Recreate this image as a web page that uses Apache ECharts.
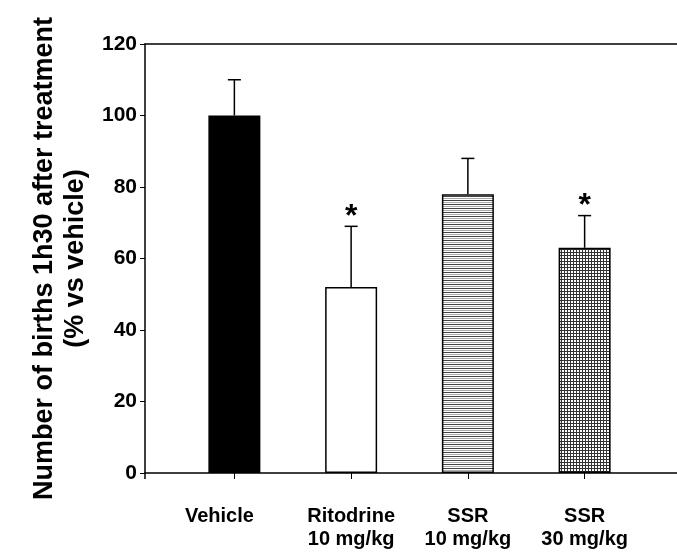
<!DOCTYPE html>
<html>
<head>
<meta charset="utf-8">
<script src="https://cdn.jsdelivr.net/npm/echarts@6/dist/echarts.min.js"></script>
<style>
  html, body { margin: 0; padding: 0; background: #fff; }
  #chart { width: 677px; height: 552px; }
</style>
</head>
<body>
<div id="chart"></div>
<script>
const categories = ['Vehicle', 'Ritodrine\n10 mg/kg', 'SSR\n10 mg/kg', 'SSR\n30 mg/kg'];
const meanValues = [100, 52, 78, 63];
const semValues = [10, 17, 10, 9];
const significance = ['', '*', '', '*'];
const yTicks = [0, 20, 40, 60, 80, 100, 120];

// small canvas tiles for the hatched bars
function makeTile(w, h, draw) {
  const c = document.createElement('canvas');
  c.width = w; c.height = h;
  const ctx = c.getContext('2d');
  ctx.fillStyle = '#fff';
  ctx.fillRect(0, 0, w, h);
  draw(ctx);
  return c;
}
const stripes = makeTile(4, 4, ctx => {
  ctx.fillStyle = '#444';
  ctx.fillRect(0, 0, 4, 1);
  ctx.fillStyle = '#aaa';
  ctx.fillRect(0, 2, 4, 1);
});
const grid = makeTile(3, 3, ctx => {
  ctx.fillStyle = '#333';
  ctx.fillRect(0, 0, 3, 1);
  ctx.fillRect(0, 0, 1, 3);
});

const fills = [
  '#000',
  '#fff',
  { image: stripes, repeat: 'repeat' },
  { image: grid, repeat: 'repeat' }
];

const font = 'Liberation Sans, Arial, sans-serif';

let chart = echarts.init(document.getElementById('chart'));
chart.setOption({
  animation: false,
  backgroundColor: '#fff',
  grid: [
    { left: 145, right: 0, top: 44, bottom: 79 },
    { left: 176, right: 34, top: 44, bottom: 79 }
  ],
  xAxis: [
    {
      gridIndex: 0, type: 'value', min: 0, max: 1,
      axisLine: { lineStyle: { color: '#000', width: 1.5 } },
      axisTick: { show: true, customValues: [0], length: 6, lineStyle: { color: '#000', width: 1.5 } },
      axisLabel: { show: false },
      splitLine: { show: false }
    },
    {
      gridIndex: 0, type: 'value', position: 'top', min: 0, max: 1,
      axisLine: { lineStyle: { color: '#000', width: 1.5 } },
      axisTick: { show: false },
      axisLabel: { show: false },
      splitLine: { show: false }
    },
    {
      gridIndex: 1, type: 'category', data: categories,
      axisLine: { show: false },
      axisTick: { show: true, alignWithLabel: true, interval: 0, length: 6, lineStyle: { color: '#000', width: 1 } },
      axisLabel: {
        interval: 0,
        margin: 32,
        color: '#000',
        fontFamily: font,
        fontWeight: 'bold',
        fontSize: 20,
        lineHeight: 23,
        verticalAlign: 'top',
        formatter: v => v === 'Vehicle' ? '{v|' + v + '}' : v,
        rich: {
          v: { padding: [0, 30, 0, 0], fontFamily: font, fontWeight: 'bold', fontSize: 20, lineHeight: 23, color: '#000' }
        }
      }
    }
  ],
  yAxis: [
    {
      gridIndex: 0, type: 'value', min: 0, max: 120, interval: 20,
      name: 'Number of births 1h30 after treatment\n(% vs vehicle)',
      nameLocation: 'middle',
      nameRotate: 90,
      nameGap: 54,
      nameTextStyle: { color: '#000', fontFamily: font, fontWeight: 'bold', fontSize: 27, lineHeight: 31 },
      axisLine: { show: true, lineStyle: { color: '#000', width: 1.5 } },
      axisTick: { show: true, length: 5, lineStyle: { color: '#000', width: 1 } },
      axisLabel: {
        margin: 8, color: '#000', fontFamily: font, fontWeight: 'bold', fontSize: 21,
        formatter: v => yTicks.includes(v) ? String(v) : ''
      },
      splitLine: { show: false }
    },
    { gridIndex: 1, type: 'value', min: 0, max: 120, interval: 20, show: false }
  ],
  series: [
    {
      type: 'bar',
      xAxisIndex: 2,
      yAxisIndex: 1,
      barWidth: 52,
      data: meanValues.map((v, i) => ({
        value: v,
        itemStyle: { color: fills[i], borderColor: '#000', borderWidth: 1.5 }
      }))
    },
    {
      type: 'custom',
      xAxisIndex: 2,
      yAxisIndex: 1,
      data: meanValues.map((v, i) => [i, v, v + semValues[i]]),
      renderItem: (params, api) => {
        const i = api.value(0);
        const base = api.coord([i, api.value(1)]);
        const top = api.coord([i, api.value(2)]);
        const half = 6.5;
        const children = [
          { type: 'line', shape: { x1: base[0], y1: base[1], x2: top[0], y2: top[1] }, style: { stroke: '#000', lineWidth: 1.5 } },
          { type: 'line', shape: { x1: top[0] - half, y1: top[1], x2: top[0] + half, y2: top[1] }, style: { stroke: '#000', lineWidth: 1.5 } }
        ];
        if (significance[i]) {
          children.push({
            type: 'text',
            style: {
              text: significance[i], x: top[0], y: top[1] - 9,
              align: 'center', verticalAlign: 'middle',
              font: 'bold 32px ' + font, fill: '#000'
            }
          });
        }
        return { type: 'group', children: children };
      },
      z: 5
    }
  ]
});
</script>
</body>
</html>
